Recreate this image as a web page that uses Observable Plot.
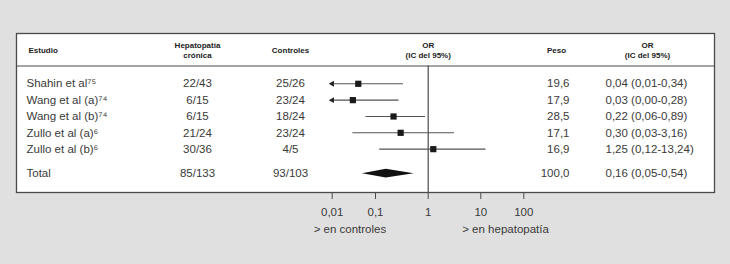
<!DOCTYPE html>
<html>
<head>
<meta charset="utf-8">
<script src="https://cdn.jsdelivr.net/npm/d3@7"></script>
<script src="https://cdn.jsdelivr.net/npm/@observablehq/plot@0.6"></script>
<style>
  html, body { margin: 0; padding: 0; background: #e0e0e0; }
</style>
</head>
<body>
<div id="chart"></div>
<script>
// ---- data ----
const studies = ["Shahin et al\u2077\u2075", "Wang et al (a)\u2077\u2074", "Wang et al (b)\u2077\u2074", "Zullo et al (a)\u2076", "Zullo et al (b)\u2076"];
const hepatopatia = ["22/43", "6/15", "6/15", "21/24", "30/36"];
const controles = ["25/26", "23/24", "18/24", "23/24", "4/5"];
const peso = [19.6, 17.9, 28.5, 17.1, 16.9];
const orValues = [0.04, 0.03, 0.22, 0.30, 1.25];
const ciLow = [0.01, 0.00, 0.06, 0.03, 0.12];
const ciHigh = [0.34, 0.28, 0.89, 3.16, 13.24];
const totalLabel = "Total";
const totalHep = "85/133";
const totalCtrl = "93/103";
const totalPeso = 100.0;
const totalOR = 0.16;
const totalLow = 0.05;
const totalHigh = 0.54;
const tickValues = [0.01, 0.1, 1, 10, 100];
const tickLabels = ["0,01", "0,1", "1", "10", "100"];
const headers = {study: "Estudio", hep: "Hepatopatía\ncrónica", ctrl: "Controles", or: "OR\n(IC del 95%)", peso: "Peso"};
const favourLeft = "> en controles";
const favourRight = "> en hepatopatía";

// ---- layout ----
const W = 730, H = 264;
const M = {top: 33, right: 16, bottom: 72, left: 16};
const ROW_PX = 16.34, FIRST_ROW_Y = 83.3;
const toRow = (py) => (py - FIRST_ROW_Y) / ROW_PX;
const TOTAL_ROW = studies.length + 0.5;
const HEADER_ROW = toRow(49.5);
const HEADER_LINE = toRow(65.5);
const FRAME_TOP = toRow(M.top);
const FRAME_BOTTOM = toRow(H - M.bottom);
const COL = {study: 26, studyHead: 28, hep: 197, ctrl: 290, peso: 569, pesoHead: 556, or: 605, orHead: 647};
const axisMin = tickValues[0];
const font = "'Liberation Sans', Arial, Helvetica, sans-serif";
const textColor = "#3a3a3a";

const fmt = (v, d) => v.toFixed(d).replace(".", ",");

const rows = studies.map((s, i) => ({
  name: s, hep: hepatopatia[i], ctrl: controles[i], peso: peso[i],
  or: orValues[i], lo: ciLow[i], hi: ciHigh[i], row: i
}));
const total = {name: totalLabel, hep: totalHep, ctrl: totalCtrl, peso: totalPeso,
  or: totalOR, lo: totalLow, hi: totalHigh, row: TOTAL_ROW};
const allRows = [...rows, total];
allRows.forEach(d => { d.orText = `${fmt(d.or, 2)} (${fmt(d.lo, 2)}-${fmt(d.hi, 2)})`; d.pesoText = fmt(d.peso, 1); });

const truncated = rows.filter(d => d.lo <= axisMin);
const DIAMOND_H = 0.27;
const diamond = [
  {x: Math.max(total.lo, axisMin), y1: total.row, y2: total.row},
  {x: total.or, y1: total.row - DIAMOND_H, y2: total.row + DIAMOND_H},
  {x: total.hi, y1: total.row, y2: total.row}
];

const colText = (data, text, px, anchor, extra = {}) =>
  Plot.text(data, {y: "row", text, frameAnchor: "left", dx: px - M.left, textAnchor: anchor,
    fill: textColor, fontSize: 11.5, ...extra});
const headText = (text, px, anchor) =>
  Plot.text([text], {y: () => HEADER_ROW, text: d => d, frameAnchor: "left", dx: px - M.left,
    textAnchor: anchor, fill: "#222", fontSize: 8, fontWeight: "bold", lineHeight: 1.2});

const chart = Plot.plot({
  width: W, height: H,
  marginTop: M.top, marginRight: M.right, marginBottom: M.bottom, marginLeft: M.left,
  style: {fontFamily: font, background: "#e0e0e0", overflow: "visible"},
  x: {type: "log", domain: tickValues, range: [331.7, 375, 427.7, 480.3, 523.3], axis: null},
  y: {type: "linear", domain: [FRAME_TOP, FRAME_BOTTOM], range: [M.top, H - M.bottom], axis: null},
  marks: [
    Plot.frame({fill: "white", stroke: "#4a4a4a", strokeWidth: 1.3}),
    Plot.ruleY([HEADER_LINE], {stroke: "#4a4a4a", strokeWidth: 1.2}),
    Plot.ruleX([1], {y1: HEADER_LINE, y2: FRAME_BOTTOM, stroke: "#4a4a4a", strokeWidth: 1.2}),
    Plot.axisX({ticks: tickValues, tickFormat: (d) => tickLabels[tickValues.indexOf(d)],
      tickSize: 7, tickPadding: 8, stroke: "#4a4a4a", fill: textColor, fontSize: 11.5}),
    // headers
    headText(headers.study, COL.studyHead, "start"),
    headText(headers.hep, COL.hep, "middle"),
    headText(headers.ctrl, COL.ctrl, "middle"),
    Plot.text([headers.or], {x: () => 1, y: () => HEADER_ROW, text: d => d, textAnchor: "middle",
      fill: "#222", fontSize: 8, fontWeight: "bold", lineHeight: 1.2}),
    headText(headers.peso, COL.pesoHead, "middle"),
    headText(headers.or, COL.orHead, "middle"),
    // table columns
    colText(allRows, "name", COL.study, "start"),
    colText(allRows, "hep", COL.hep, "middle"),
    colText(allRows, "ctrl", COL.ctrl, "middle"),
    colText(allRows, "pesoText", COL.peso, "end"),
    colText(allRows, "orText", COL.or, "start"),
    // forest
    Plot.ruleY(rows, {y: "row", x1: d => Math.max(d.lo, axisMin), x2: "hi", stroke: "#555", strokeWidth: 1.1}),
    Plot.dot(truncated, {x: () => axisMin, y: "row", symbol: "triangle", rotate: -90, r: 2.2, fill: "#222", stroke: null}),
    Plot.dot(rows, {x: "or", y: "row", symbol: "square", r: 3.5, fill: "#1a1a1a", stroke: null}),
    Plot.area(diamond, {x1: "x", y1: "y1", y2: "y2", fill: "#111", curve: "linear"}),
    // favour labels
    Plot.text([favourLeft], {x: () => 1, text: d => d, frameAnchor: "bottom", dy: 40, dx: -42,
      textAnchor: "end", fill: textColor, fontSize: 11.5}),
    Plot.text([favourRight], {x: () => 1, text: d => d, frameAnchor: "bottom", dy: 40, dx: 34,
      textAnchor: "start", fill: textColor, fontSize: 11.5})
  ]
});
document.getElementById("chart").appendChild(chart);
</script>
</body>
</html>
